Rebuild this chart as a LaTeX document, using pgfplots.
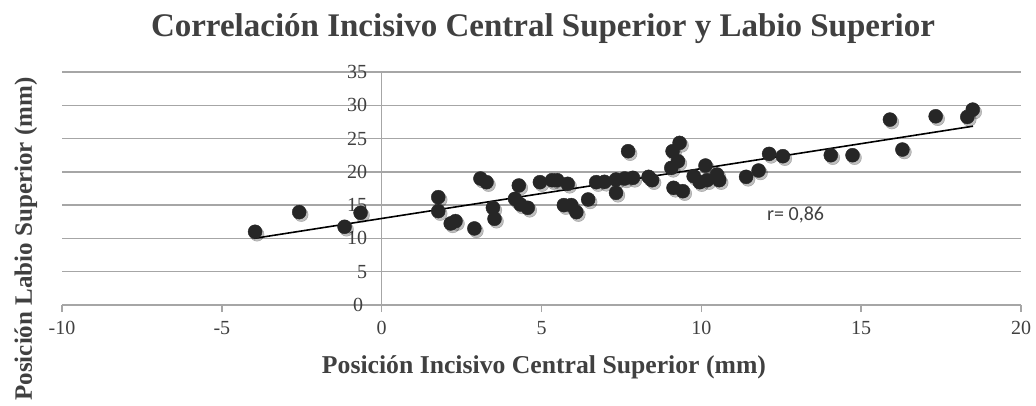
\documentclass[border=0pt]{standalone}
\usepackage{fontspec}
\setmainfont{Liberation Serif}
\newfontfamily\calib{Carlito}
\usepackage{pgfplots}
\pgfplotsset{compat=1.18}
\definecolor{txt}{HTML}{404040}
\definecolor{gridc}{HTML}{A6A6A6}
\definecolor{dot}{HTML}{262626}
\pgfplotstableread{
x y
-3.96 11.0
-2.58 13.95
-1.16 11.75
-0.66 13.85
1.77 16.2
1.77 14.1
2.16 12.25
2.31 12.6
2.9 11.5
3.09 19.0
3.28 18.45
3.48 14.6
3.53 12.95
4.29 17.95
4.17 15.95
4.34 15.1
4.57 14.6
4.95 18.45
5.33 18.75
5.49 18.75
5.82 18.2
5.7 15.0
5.93 15.0
6.09 13.95
6.46 15.85
6.71 18.45
6.97 18.5
7.33 18.85
7.33 16.85
7.6 19.0
7.71 23.1
7.86 19.1
8.35 19.25
8.46 18.75
9.06 20.6
9.1 23.1
9.13 17.6
9.27 21.6
9.32 24.35
9.42 17.1
9.76 19.35
9.95 18.45
10.13 20.95
10.18 18.75
10.49 19.6
10.56 18.75
11.4 19.25
11.79 20.2
12.12 22.7
12.55 22.35
14.05 22.5
14.73 22.5
15.9 27.85
16.29 23.35
17.33 28.35
18.32 28.25
18.49 29.35
}\pts
\begin{document}
\begin{tikzpicture}[x=1pt,y=1pt]
\useasboundingbox (0,0) rectangle (1036,405);
\begin{axis}[
  at={(62pt,100pt)}, anchor=south west,
  scale only axis, width=959pt, height=233pt,
  xmin=-10, xmax=20, ymin=0, ymax=35,
  axis x line=bottom, axis y line=center,
  x axis line style={-, draw=gridc, line width=1.5pt},
  y axis line style={-, draw=gridc, line width=1.5pt},
  xtick={-10,-5,...,20}, ytick={5,10,...,35},
  extra y ticks={0},
  ymajorgrids, xmajorgrids=false,
  grid style={draw=gridc, line width=1.5pt},
  tick style={draw=gridc, line width=1.5pt},
  major tick length=7pt,
  xtick align=outside, ytick align=outside,
  /pgf/number format/assume math mode=true,
  ticklabel style={font=\fontsize{20}{23}\selectfont, text=txt},
  xticklabel style={anchor=north, yshift=-6pt},
  yticklabel style={anchor=east, xshift=-4pt},
  extra y tick style={yticklabel style={anchor=east, xshift=-4pt}},
  clip=false,
]
\addplot[only marks, mark=*, mark size=7pt, draw=none, fill=black, opacity=0.25,
  mark options={xshift=2pt, yshift=-2.5pt, draw=none, fill=black}] table[x=x,y=y]{\pts};
\addplot[no marks, black, line width=1.6pt] coordinates {(-4,10.0) (18.5,26.86)};
\addplot[only marks, mark=*, mark size=7pt, mark options={draw=dot, fill=dot}] table[x=x,y=y]{\pts};
\node[anchor=west, text=txt, font=\calib\fontsize{20}{24}\selectfont] at (axis cs:11.95,13.6) {r= 0,86};
\node[anchor=base, text=txt, font=\bfseries\fontsize{33}{38}\selectfont] at (axis description cs:0.5016,1.1515) {Correlación Incisivo Central Superior y Labio Superior};
\node[anchor=base, text=txt, font=\bfseries\fontsize{25.7}{30}\selectfont] at (axis description cs:0.5026,-0.293) {Posición Incisivo Central Superior (mm)};
\node[anchor=base, rotate=90, text=txt, font=\bfseries\fontsize{25}{30}\selectfont] at (axis description cs:-0.0313,0.283) {Posición Labio Superior (mm)};
\end{axis}
\end{tikzpicture}
\end{document}
